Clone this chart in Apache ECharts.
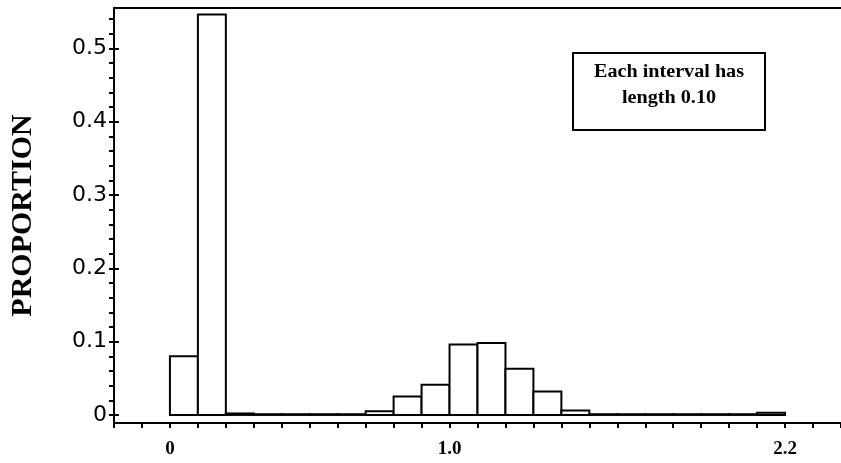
<!DOCTYPE html>
<html>
<head>
<meta charset="utf-8">
<script src="https://cdn.jsdelivr.net/npm/echarts@6/dist/echarts.min.js"></script>
<style>html,body{margin:0;padding:0;background:#fff}#c{width:841px;height:463px}</style>
</head>
<body>
<div id="c"></div>
<script>
// Histogram bins (left edges), each of width 0.10
const binStarts = [0.0,0.1,0.2,0.3,0.4,0.5,0.6,0.7,0.8,0.9,1.0,1.1,1.2,1.3,1.4,1.5,1.6,1.7,1.8,1.9,2.0,2.1];
const binWidth = 0.1;
const proportions = [0.080,0.546,0.002,0.001,0.001,0.001,0.001,0.005,0.025,0.041,0.096,0.098,0.063,0.032,0.006,0.001,0.001,0.001,0.001,0.001,0.001,0.003];
const yTickValues = [0,0.1,0.2,0.3,0.4,0.5];
const xLabelValues = [0,1.0,2.2];
const xLabelTexts = ['0','1.0','2.2'];
const yAxisTitle = 'PROPORTION';
const noteLines = ['Each interval has','length 0.10'];

const minorY = [];
for (let i = 0; i <= 27; i++) minorY.push(+(i*0.02).toFixed(2));

const histData = binStarts.map((s,i)=>[s, +(s+binWidth).toFixed(2), proportions[i]]);

const chart = echarts.init(document.getElementById('c'));
const X_MIN=-0.2, X_MAX=2.4, Y_MIN=-0.011, Y_MAX=0.555;
chart.setOption({
  animation:false,
  backgroundColor:'#fff',
  grid:{left:114, top:8, width:728, height:415},
  xAxis:[{
    type:'value', min:X_MIN, max:X_MAX, interval:0.1,
    axisLine:{show:true, onZero:false, lineStyle:{color:'#000', width:2}},
    axisTick:{show:true, length:5, lineStyle:{color:'#000', width:2}},
    splitLine:{show:false},
    axisLabel:{customValues:xLabelValues, margin:17,
      formatter:(v)=>{const i=xLabelValues.findIndex(x=>Math.abs(x-v)<1e-6);return i>=0?xLabelTexts[i]:'';},
      color:'#000', fontFamily:'Liberation Serif', fontWeight:'bold', fontSize:19}
  },{
    type:'value', position:'top', min:X_MIN, max:X_MAX,
    axisLine:{show:true, onZero:false, lineStyle:{color:'#000', width:2}},
    axisTick:{show:false}, axisLabel:{show:false}, splitLine:{show:false}
  }],
  yAxis:[{
    type:'value', min:Y_MIN, max:Y_MAX,
    name:yAxisTitle, nameLocation:'middle', nameRotate:90, nameGap:76,
    nameTextStyle:{color:'#000', fontFamily:'Liberation Serif', fontWeight:'bold', fontSize:30},
    axisLine:{show:true, onZero:false, lineStyle:{color:'#000', width:2}},
    axisTick:{show:true, customValues:minorY, length:5, lineStyle:{color:'#000', width:2}},
    splitLine:{show:false},
    axisLabel:{customValues:yTickValues, margin:7, color:'#000', fontFamily:'DejaVu Sans', fontSize:22,
      formatter:(v)=>Math.abs(v)<1e-9?'0':v.toFixed(1)}
  },{
    type:'value', position:'left', min:Y_MIN, max:Y_MAX,
    axisLine:{show:false, onZero:false},
    axisTick:{show:true, inside:true, customValues:yTickValues, length:5, lineStyle:{color:'#000', width:2}},
    axisLabel:{show:false}, splitLine:{show:false}
  }],
  graphic:[{
    type:'group', children:[
      {type:'rect', shape:{x:573, y:53, width:192, height:77}, style:{fill:'#fff', stroke:'#000', lineWidth:2}},
      {type:'text', x:669, y:72, scaleX:1.12, style:{text:noteLines[0], fill:'#000', font:'bold 18px "Liberation Serif"', textAlign:'center', textVerticalAlign:'middle'}},
      {type:'text', x:669, y:98, scaleX:1.12, style:{text:noteLines[1], fill:'#000', font:'bold 18px "Liberation Serif"', textAlign:'center', textVerticalAlign:'middle'}}
    ]
  }],
  series:[{
    type:'custom', xAxisIndex:0, yAxisIndex:0,
    data:histData,
    encode:{x:[0,1], y:2},
    renderItem:function(params, api){
      const p0 = api.coord([api.value(0), api.value(2)]);
      const p1 = api.coord([api.value(1), 0]);
      return {type:'rect', shape:{x:p0[0], y:p0[1], width:p1[0]-p0[0], height:p1[1]-p0[1]},
        style:{fill:'#fff', stroke:'#000', lineWidth:2}};
    }
  }]
});
</script>
</body>
</html>
